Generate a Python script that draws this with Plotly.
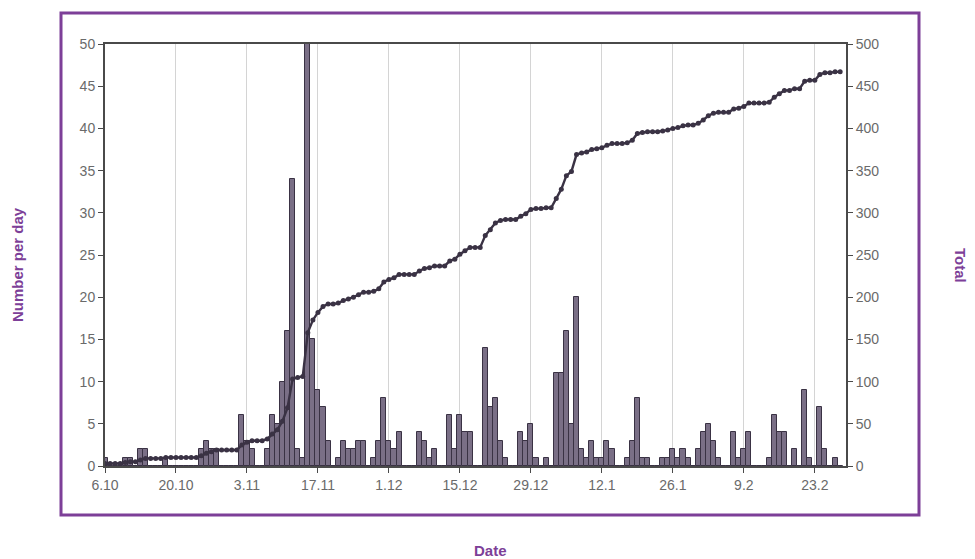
import plotly.graph_objects as go

# Day index 0 = 6.10 (6 October), one entry per day
days = list(range(146))

per_day = [
    1, 0, 0, 0, 1, 1, 0, 2, 2, 0,
    0, 0, 1, 0, 0, 0, 0, 0, 0, 2,
    3, 2, 2, 0, 0, 0, 0, 6, 3, 2,
    0, 0, 2, 6, 5, 10, 16, 34, 2, 1,
    52, 15, 9, 7, 3, 0, 1, 3, 2, 2,
    3, 3, 0, 1, 3, 8, 3, 2, 4, 0,
    0, 0, 4, 3, 1, 2, 0, 0, 6, 2,
    6, 4, 4, 0, 0, 14, 7, 8, 3, 1,
    0, 0, 4, 3, 5, 1, 0, 1, 0, 11,
    11, 16, 5, 20, 2, 1, 3, 1, 1, 3,
    2, 0, 0, 1, 3, 8, 1, 1, 0, 0,
    1, 1, 2, 1, 2, 1, 0, 2, 4, 5,
    3, 1, 0, 0, 4, 1, 2, 4, 0, 0,
    0, 1, 6, 4, 4, 0, 2, 0, 9, 1,
    0, 7, 2, 0, 1, 0,
]

total = [
    3, 3, 3, 3, 4, 5, 5, 7, 9, 9,
    9, 9, 10, 10, 10, 10, 10, 10, 10, 12,
    15, 17, 19, 19, 19, 19, 19, 25, 28, 30,
    30, 30, 32, 38, 43, 53, 69, 103, 105, 106,
    158, 173, 182, 189, 192, 192, 193, 196, 198, 200,
    203, 206, 206, 207, 210, 218, 221, 223, 227, 227,
    227, 227, 231, 234, 235, 237, 237, 237, 243, 245,
    251, 255, 259, 259, 259, 273, 280, 288, 291, 292,
    292, 292, 296, 299, 304, 305, 305, 306, 306, 317,
    328, 344, 349, 369, 371, 372, 375, 376, 377, 380,
    382, 382, 382, 383, 386, 394, 395, 396, 396, 396,
    397, 398, 400, 401, 403, 404, 404, 406, 410, 415,
    418, 419, 419, 419, 423, 424, 426, 430, 430, 430,
    430, 431, 437, 441, 445, 445, 447, 447, 456, 457,
    457, 464, 466, 466, 467, 467,
]

tick_days = [0, 14, 28, 42, 56, 70, 84, 98, 112, 126, 140]
tick_labels = ["6.10", "20.10", "3.11", "17.11", "1.12", "15.12",
               "29.12", "12.1", "26.1", "9.2", "23.2"]

PURPLE = "#7d3f98"
DARK = "#3a3244"
TICKFONT = dict(family="Liberation Sans Narrow, Arial Narrow, Liberation Sans, Arial",
                size=14, color="#6a6a6a")

fig = go.Figure()
fig.add_trace(go.Bar(
    x=days, y=per_day, width=1.0, yaxis="y",
    marker=dict(color="#7a6f86", line=dict(color=DARK, width=1)),
    showlegend=False,
))
fig.add_trace(go.Scatter(
    x=days, y=total, yaxis="y2", mode="lines+markers",
    line=dict(color=DARK, width=2.4),
    marker=dict(color=DARK, size=5),
    showlegend=False,
))

OFF = 8  # page body margin
W, H = 975 - OFF, 559 - OFF
L, R, T, B = 105 - OFF, 846 - OFF, 44 - OFF, 466 - OFF
pw, ph = R - L, B - T

def px(x):
    return (x - OFF - L) / pw

def py(y):
    return (B - (y - OFF)) / ph

TITLEFONT = dict(family="Liberation Sans, Arial", size=15, color=PURPLE)

fig.update_layout(
    width=W, height=H,
    margin=dict(l=L, r=W - R, t=T, b=H - B, autoexpand=False),
    paper_bgcolor="white", plot_bgcolor="white",
    bargap=0,
    xaxis=dict(
        range=[0, 146.15], tickmode="array", tickvals=tick_days, ticktext=tick_labels,
        showgrid=True, gridcolor="#d4d4d4", gridwidth=1,
        showline=True, linecolor="#4a4a4a", linewidth=2, mirror=True,
        ticks="outside", ticklen=5, tickcolor="#4a4a4a",
        tickfont=TICKFONT, zeroline=False,
    ),
    yaxis=dict(
        range=[0, 50], dtick=5, showgrid=False, zeroline=False,
        showline=True, linecolor="#4a4a4a", linewidth=2,
        ticks="outside", ticklen=5, tickcolor="#4a4a4a",
        tickfont=TICKFONT,
    ),
    yaxis2=dict(
        range=[0, 500], dtick=50, overlaying="y", side="right",
        showgrid=False, zeroline=False,
        showline=True, linecolor="#4a4a4a", linewidth=2,
        ticks="outside", ticklen=5, tickcolor="#4a4a4a",
        tickfont=TICKFONT,
    ),
    shapes=[dict(
        type="rect", xref="paper", yref="paper",
        x0=px(61), x1=px(919), y0=py(515), y1=py(13),
        line=dict(color=PURPLE, width=3), fillcolor="rgba(0,0,0,0)", layer="below",
    )],
    annotations=[
        dict(text="<b>Number per day</b>", xref="paper", yref="paper",
             x=px(17), y=py(265), xanchor="center", yanchor="middle",
             textangle=-90, showarrow=False, font=TITLEFONT),
        dict(text="<b>Total</b>", xref="paper", yref="paper",
             x=px(961), y=py(265), xanchor="center", yanchor="middle",
             textangle=90, showarrow=False, font=TITLEFONT),
        dict(text="<b>Date</b>", xref="paper", yref="paper",
             x=px(490), y=py(550), xanchor="center", yanchor="middle",
             showarrow=False, font=TITLEFONT),
    ],
)

fig.write_html("out.html")
